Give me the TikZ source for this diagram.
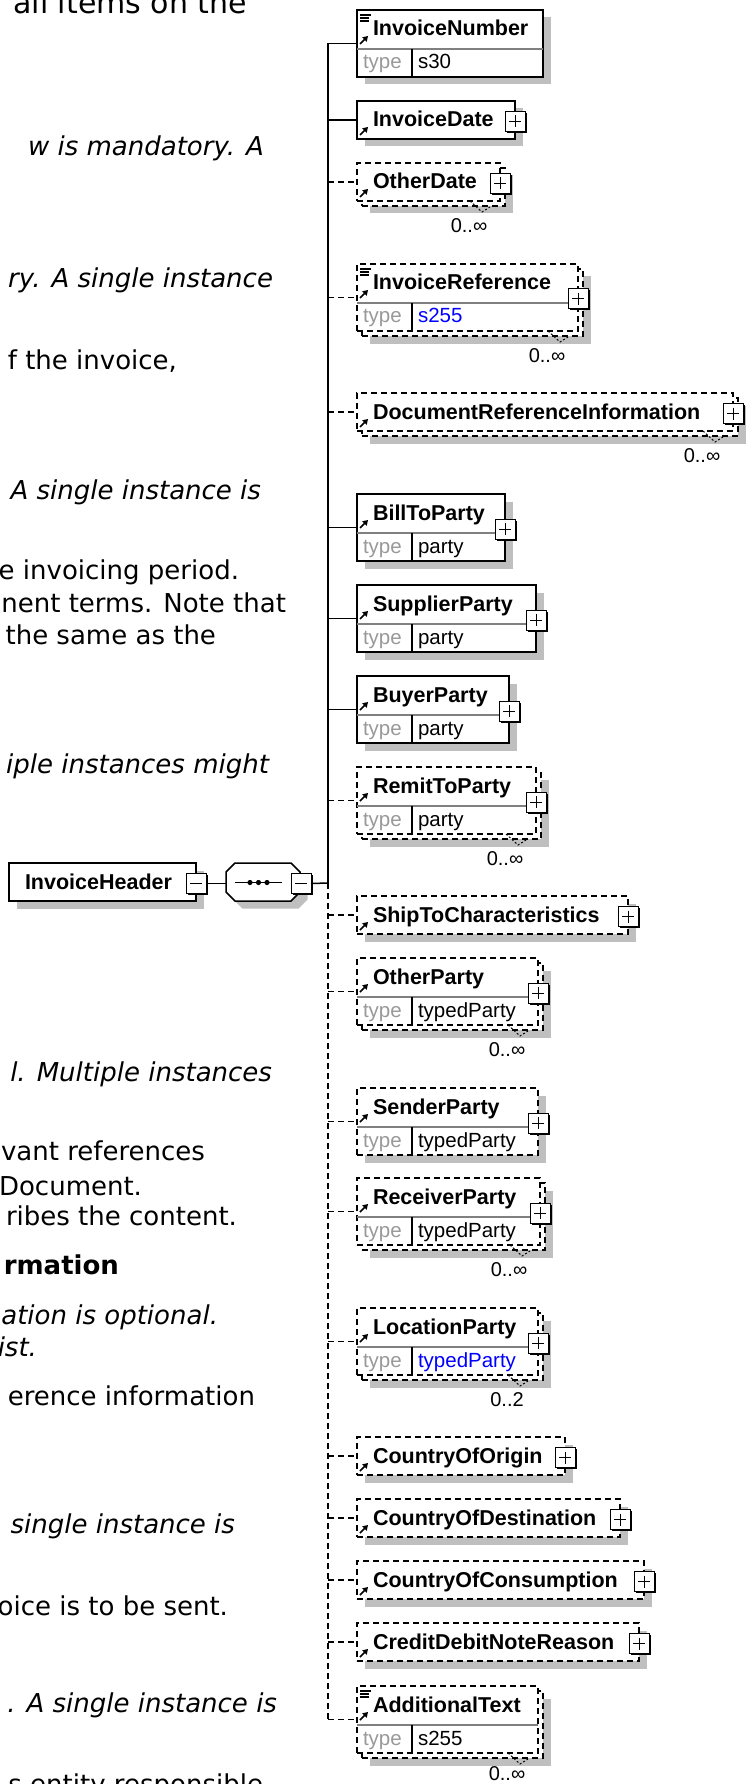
\documentclass[tikz,border=0pt]{standalone}
\usepackage{fontspec}
\setmainfont{DejaVu Sans}
\newfontfamily\diagfont{Liberation Sans}
\usetikzlibrary{positioning,shadows,arrows.meta}

\begin{document}
\begin{tikzpicture}[
    x=1pt, y=-1pt,
    every node/.style={inner sep=0pt, outer sep=0pt},
    conn/.style={line width=1.5pt},
    opt/.style={dash pattern=on 6pt off 4pt},
    elem/.style={draw, fill=white, line width=1.5pt, anchor=north west, minimum height=38pt},
    twin/.style={elem, minimum height=67pt},
    boxshadow/.style={drop shadow={shadow xshift=7.5pt, shadow yshift=-7.5pt, fill=black!25, opacity=1}},
    tag/.style={anchor=base west, font=\diagfont\bfseries\fontsize{21.5}{22}\selectfont},
    typelbl/.style={anchor=base west, font=\diagfont\fontsize{20.5}{21}\selectfont, text=black!40},
    typeval/.style={anchor=base west, font=\diagfont\fontsize{20.5}{21}\selectfont},
    occ/.style={font=\diagfont\fontsize{20}{20}\selectfont},
    btn/.style={draw, fill=white, line width=1pt, minimum size=20pt,
        drop shadow={shadow xshift=1.5pt, shadow yshift=-1.5pt, fill=black, opacity=1}},
    plusbtn/.style={btn, path picture={
        \draw[line width=1pt] ([yshift=-4pt]path picture bounding box.north) -- ([yshift=4pt]path picture bounding box.south)
            ([xshift=4pt]path picture bounding box.west) -- ([xshift=-4pt]path picture bounding box.east);}},
    minusbtn/.style={btn, path picture={
        \draw[line width=1pt] ([xshift=4pt]path picture bounding box.west) -- ([xshift=-4pt]path picture bounding box.east);}},
    refarrow/.style={line width=1.6pt, -{Triangle[length=5pt, width=6pt]}},
    para/.style={anchor=base east, font=\fontsize{26}{26}\selectfont},
    emph/.style={para, font=\fontsize{26}{26}\selectfont\itshape},
]
\useasboundingbox (0,0) rectangle (747,1784);
\clip (0,0) rectangle (747,1784);

% text of the page beside the diagram
\node[para, font=\fontsize{30}{30}\selectfont] (p1) at (247,14) {all items on the};
\node[emph] (p2) at (264,156) {w is mandatory. A};
\node[emph] (p3) at (273,288) {ry. A single instance};
\node[para] (p4) at (177,369) {f the invoice,};
\node[emph] (p5) at (261,499) {A single instance is};
\node[para] (p6) at (239,579) {e invoicing period.};
\node[para] (p7) at (286,612) {nent terms. Note that};
\node[para] (p8) at (216,644) {the same as the};
\node[emph] (p9) at (269,773) {iple instances might};
\node[emph] (p10) at (272,1081) {l. Multiple instances};
\node[para] (p11) at (205,1160) {vant references};
\node[para] (p12) at (142,1195) {Document.};
\node[para] (p13) at (237,1225) {ribes the content.};
\node[para, font=\fontsize{26}{26}\selectfont\bfseries] (p14) at (119,1274) {rmation};
\node[emph] (p15) at (218,1324) {ation is optional.};
\node[emph] (p16) at (37,1356) {ist.};
\node[para] (p17) at (255,1405) {erence information};
\node[emph] (p18) at (235,1533) {single instance is};
\node[para] (p19) at (228,1615) {oice is to be sent.};
\node[emph] (p20) at (277,1712) {. A single instance is};
\node[para] (p21) at (263,1793) {s entity responsible};

% root and sequence
\node[elem, boxshadow, minimum width=187pt] (hdr) at (9,863) {};
\node[tag] (hdr-n) at ([shift={(16,26)}]hdr.north west) {InvoiceHeader};
\node[minusbtn] (hdr-x) at ([yshift=-1.5pt]hdr.east) {};
\coordinate (seq-w) at (226,882);
\coordinate (seq-e) at (300,882);
\coordinate (seq-mid) at (258.5,882.5);
\draw[line width=1.5pt, fill=white, boxshadow] (226,872) -- (235,863) -- (291,863) -- (300,872)
    -- (300,892) -- (291,901) -- (235,901) -- (226,892) -- cycle;
\draw[line width=1.5pt] ([xshift=-23.5pt]seq-mid) -- ([xshift=23.5pt]seq-mid);
\foreach \dx in {-8.5,0,8.5} \fill ([xshift=\dx pt]seq-mid) circle (2.6pt);
\node[minusbtn] (seq-x) at ([shift={(1,1.5)}]seq-e) {};
\coordinate (junc) at (328,883);

% child elements
\node[twin, boxshadow, minimum width=186pt] (num) at (357,10) {};
\node[elem, boxshadow, minimum width=158pt] (date) at (357,101) {};
\node[elem, opt, boxshadow, minimum width=143pt] (odate-b) at (362,168) {};
\node[elem, opt, minimum width=143pt] (odate) at (357,163) {};
\node[twin, opt, boxshadow, minimum width=221pt] (iref-b) at (362,269) {};
\node[twin, opt, minimum width=221pt] (iref) at (357,264) {};
\node[elem, opt, boxshadow, minimum width=376pt] (docref-b) at (362,398) {};
\node[elem, opt, minimum width=376pt] (docref) at (357,393) {};
\node[twin, boxshadow, minimum width=148pt] (bill) at (357,494) {};
\node[twin, boxshadow, minimum width=179pt] (supp) at (357,585) {};
\node[twin, boxshadow, minimum width=152pt] (buyer) at (357,676) {};
\node[twin, opt, boxshadow, minimum width=179pt] (remit-b) at (362,772) {};
\node[twin, opt, minimum width=179pt] (remit) at (357,767) {};
\node[elem, opt, boxshadow, minimum width=271pt] (ship) at (357,896) {};
\node[twin, opt, boxshadow, minimum width=181pt] (oparty-b) at (362,963) {};
\node[twin, opt, minimum width=181pt] (oparty) at (357,958) {};
\node[twin, opt, boxshadow, minimum width=181pt] (sender) at (357,1088) {};
\node[twin, opt, boxshadow, minimum width=183pt] (recv-b) at (362,1183) {};
\node[twin, opt, minimum width=183pt] (recv) at (357,1178) {};
\node[twin, opt, boxshadow, minimum width=181pt] (loc-b) at (362,1313) {};
\node[twin, opt, minimum width=181pt] (loc) at (357,1308) {};
\node[elem, opt, boxshadow, minimum width=208pt] (origin) at (357,1437) {};
\node[elem, opt, boxshadow, minimum width=263pt] (dest) at (357,1499) {};
\node[elem, opt, boxshadow, minimum width=287pt] (cons) at (357,1561) {};
\node[elem, opt, boxshadow, minimum width=282pt] (credit) at (357,1623) {};
\node[twin, opt, boxshadow, minimum width=181pt] (atext-b) at (362,1691) {};
\node[twin, opt, minimum width=181pt] (atext) at (357,1686) {};

% type rows
\foreach \n in {num,iref,bill,supp,buyer,remit,oparty,sender,recv,loc,atext} {
  \draw[line width=1.2pt, black!50] ([yshift=-39pt]\n.north west) -- ([yshift=-39pt]\n.north east);
  \draw[line width=1.2pt] ([shift={(55,39)}]\n.north west) -- ([xshift=55pt]\n.south west);
  \node[typelbl] (\n-t) at ([shift={(6,59)}]\n.north west) {type};
}
\foreach \n/\v in {num/s30, bill/party, supp/party, buyer/party, remit/party,
    oparty/typedParty, sender/typedParty, recv/typedParty, atext/s255}
  \node[typeval] (\n-v) at ([shift={(61,59)}]\n.north west) {\v};
\node[typeval, text=blue] (iref-v) at ([shift={(61,59)}]iref.north west) {s255};
\node[typeval, text=blue] (loc-v) at ([shift={(61,59)}]loc.north west) {typedParty};

% names
\foreach \n/\t in {num/InvoiceNumber, date/InvoiceDate, odate/OtherDate, iref/InvoiceReference,
    docref/DocumentReferenceInformation, bill/BillToParty, supp/SupplierParty, buyer/BuyerParty,
    remit/RemitToParty, ship/ShipToCharacteristics, oparty/OtherParty, sender/SenderParty,
    recv/ReceiverParty, loc/LocationParty, origin/CountryOfOrigin, dest/CountryOfDestination,
    cons/CountryOfConsumption, credit/CreditDebitNoteReason, atext/AdditionalText}
  \node[tag] (\n-n) at ([shift={(16,26)}]\n.north west) {\t};

% reference arrows and text icons
\foreach \n in {num,date,odate,iref,docref,bill,supp,buyer,remit,ship,oparty,sender,recv,loc,origin,dest,cons,credit,atext}
  \draw[refarrow] ([shift={(3,34)}]\n.north west) -- ++(8,-8);
\foreach \n in {num,iref,atext} {
  \draw[line width=1.1pt] ([shift={(3,5)}]\n.north west) -- ++(11,0);
  \draw[line width=1.1pt] ([shift={(3,8)}]\n.north west) -- ++(9,0);
  \draw[line width=1.1pt] ([shift={(3,11)}]\n.north west) -- ++(9,0);
}

% expand buttons
\foreach \n in {date,odate,iref,docref,bill,supp,buyer,remit,ship,oparty,sender,recv,loc,origin,dest,cons,credit}
  \node[plusbtn] (\n-x) at ([yshift=-1.5pt]\n.east) {};

% occurrences
\foreach \n/\o in {odate/0..∞, iref/0..∞, docref/0..∞, remit/0..∞, oparty/0..∞, recv/0..∞, loc/0..2, atext/0..∞}
  \draw[line width=1pt, dash pattern=on 2pt off 2pt] ([xshift=-30pt]\n.south east) -- ++(12,11) -- ++(8,-5);
\foreach \n/\o in {odate/0..∞, iref/0..∞, docref/0..∞, remit/0..∞, oparty/0..∞, recv/0..∞, loc/0..2}
  \node[occ] (\n-o) at ([shift={(-31,25)}]\n.south east) {\o};
\node[occ] (atext-o) at ([shift={(-31,21)}]atext.south east) {0..∞};

% connectors
\draw[conn] (hdr-x.east) -- (hdr-x.east -| seq-w);
\draw[conn] (seq-x.east) -- (junc);
\draw[conn] (num.west -| junc) -- (junc);
\draw[conn, opt] (junc) -- (atext.west -| junc);
\foreach \n in {num,date,bill,supp,buyer}
  \draw[conn] (\n.west -| junc) -- (\n.west);
\foreach \n in {odate,iref,docref,remit,ship,oparty,sender,recv,loc,origin,dest,cons,credit,atext}
  \draw[conn, opt] (\n.west -| junc) -- (\n.west);
\end{tikzpicture}
\end{document}
